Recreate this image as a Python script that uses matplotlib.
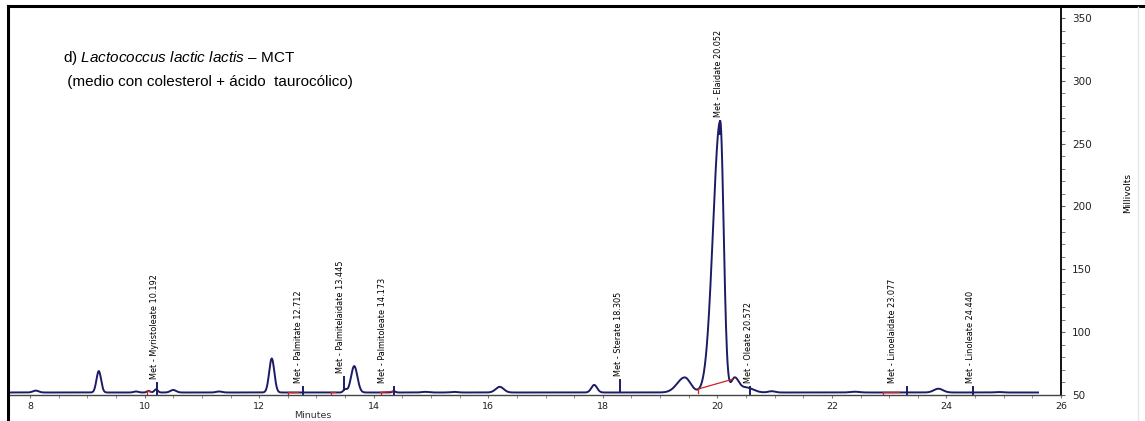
import numpy as np
import matplotlib.pyplot as plt
from matplotlib.lines import Line2D
from matplotlib.ticker import MultipleLocator, FixedLocator

plt.rcParams['mathtext.fontset'] = 'custom'
plt.rcParams['mathtext.rm'] = 'Liberation Sans'
plt.rcParams['mathtext.it'] = 'Liberation Sans:italic'

# peaks of the trace: retention time (min), height over baseline (mV), left / right width (min)
peak_rt = [8.10, 9.20, 9.85, 10.07, 10.20, 10.50, 11.30, 12.22, 13.50, 13.66, 14.35,
           14.90, 15.40, 16.20, 17.85, 19.43, 20.05, 20.30, 20.50, 20.95, 22.40, 23.86, 24.90]
peak_h = [1.5, 17.0, 0.8, 1.2, 2.5, 2.0, 0.8, 27.0, 2.5, 21.0, 1.0,
          0.5, 0.5, 4.5, 6.0, 12.0, 216.0, 11.0, 4.0, 1.0, 0.6, 3.0, 0.4]
peak_wl = [0.05, 0.04, 0.04, 0.03, 0.03, 0.05, 0.05, 0.045, 0.03, 0.055, 0.03,
           0.06, 0.06, 0.07, 0.05, 0.13, 0.125, 0.06, 0.12, 0.06, 0.08, 0.08, 0.06]
peak_wr = [0.05, 0.04, 0.04, 0.03, 0.03, 0.05, 0.05, 0.045, 0.03, 0.055, 0.03,
           0.06, 0.06, 0.07, 0.05, 0.10, 0.06, 0.07, 0.12, 0.06, 0.08, 0.08, 0.06]
baseline_mv = 52.0
run_start, run_end = 7.615, 25.6

# identified compounds
compounds = ['Met - Myristoleate', 'Met - Palmitate', 'Met - Palmitelaidate', 'Met - Palmitoleate',
             'Met - Sterate', 'Met - Elaidate', 'Met - Oleate', 'Met - Linoelaidate', 'Met - Linoleate']
ret_times = [10.192, 12.712, 13.445, 14.173, 18.305, 20.052, 20.572, 23.077, 24.440]
mark_times = [10.22, 12.76, 13.49, 14.36, 18.30, 20.05, 20.57, 23.31, 24.47]
mark_tops = [59.5, 56.5, 64.0, 56.5, 62.0, 268.0, 56.0, 56.5, 56.5]

# integration baselines (start, end in min)
integ_start = [10.05, 12.50, 13.25, 14.12, 19.67, 22.90]
integ_end = [10.12, 12.68, 13.32, 14.35, 20.27, 23.17]

label_font = ['Liberation Sans Narrow', 'DejaVu Sans Condensed', 'DejaVu Sans']


def signal(t):
    t = np.asarray(t, dtype=float)
    y = np.full_like(t, baseline_mv)
    for c, h, wl, wr in zip(peak_rt, peak_h, peak_wl, peak_wr):
        w = np.where(t < c, wl, wr)
        y = y + h * np.exp(-0.5 * ((t - c) / w) ** 2)
    return y


W, H = 1145, 421
fig = plt.figure(figsize=(W / 100, H / 100), dpi=100)
ax = fig.add_axes([8 / W, 1 - 395 / H, (1061 - 8) / W, (395 - 6) / H])

navy = '#1c1c66'
t = np.arange(run_start, run_end, 0.004)
ax.plot(t, signal(t), color=navy, lw=1.4, solid_joinstyle='miter')

# integration baselines in red
for t0, t1 in zip(integ_start, integ_end):
    y0, y1 = signal([t0, t1])
    ax.plot([t0, t1], [y0, y1], color='#cc2222', lw=0.9)
    ax.plot([t0, t0], [y0 - 3, y0], color='#cc2222', lw=0.9)

# peak markers and names
for name, rt, mt, top in zip(compounds, ret_times, mark_times, mark_tops):
    ax.plot([mt, mt], [max(50.5, top - 10), top], color=navy, lw=1.4)
    ax.annotate(f'{name} {rt:.3f}', xy=(rt, top), xytext=(-1, 3), textcoords='offset points',
                rotation=90, ha='center', va='bottom', fontsize=5.9, family=label_font)

ax.set_xlim(run_start, 26)
ax.set_ylim(50, 359.5)

ax.spines['left'].set_visible(False)
ax.spines['top'].set_visible(False)
ax.spines['right'].set_linewidth(1.4)
ax.spines['right'].set_color('#111111')
ax.spines['bottom'].set_linewidth(1.0)
ax.spines['bottom'].set_color('#444444')

ax.yaxis.tick_right()
ax.yaxis.set_major_locator(MultipleLocator(50))
ax.yaxis.set_minor_locator(MultipleLocator(10))
ax.tick_params(axis='y', which='both', direction='out', length=3, color='#666666',
               labelsize=7.5, labelcolor='#222222', pad=5)
ax.xaxis.set_major_locator(FixedLocator(np.arange(8, 27, 2)))
ax.xaxis.set_minor_locator(FixedLocator(np.arange(8, 26.01, 0.5)))
ax.tick_params(axis='x', which='both', direction='out', length=2, color='#777777',
               labelsize=6.8, labelcolor='#222222', pad=3)

# outer frame
fig.add_artist(Line2D([8 / W, 8 / W], [0, 1 - 6 / H], color='black', lw=2.2))
fig.add_artist(Line2D([8 / W, 1], [1 - 6 / H, 1 - 6 / H], color='black', lw=2.2))
fig.add_artist(Line2D([1138 / W, 1138 / W], [0, 1 - 7 / H], color='#e6e6e6', lw=1))

fig.text(63 / W, 1 - 58 / H, r'd) $\mathit{Lactococcus\ lactic\ lactis}$ – MCT',
         fontsize=11, family='Liberation Sans', va='center', ha='left')
fig.text(63 / W, 1 - 82 / H, ' (medio con colesterol + ácido  taurocólico)',
         fontsize=11, family='Liberation Sans', va='center', ha='left')

fig.text(313 / W, 1 - 416 / H, 'Minutes', fontsize=6.8, color='#333333', ha='center', va='center')
fig.text(1128 / W, 1 - 193 / H, 'Millivolts', fontsize=6.5, rotation=90, ha='center', va='center',
         family=label_font)

fig.savefig('out.png', dpi=100)
